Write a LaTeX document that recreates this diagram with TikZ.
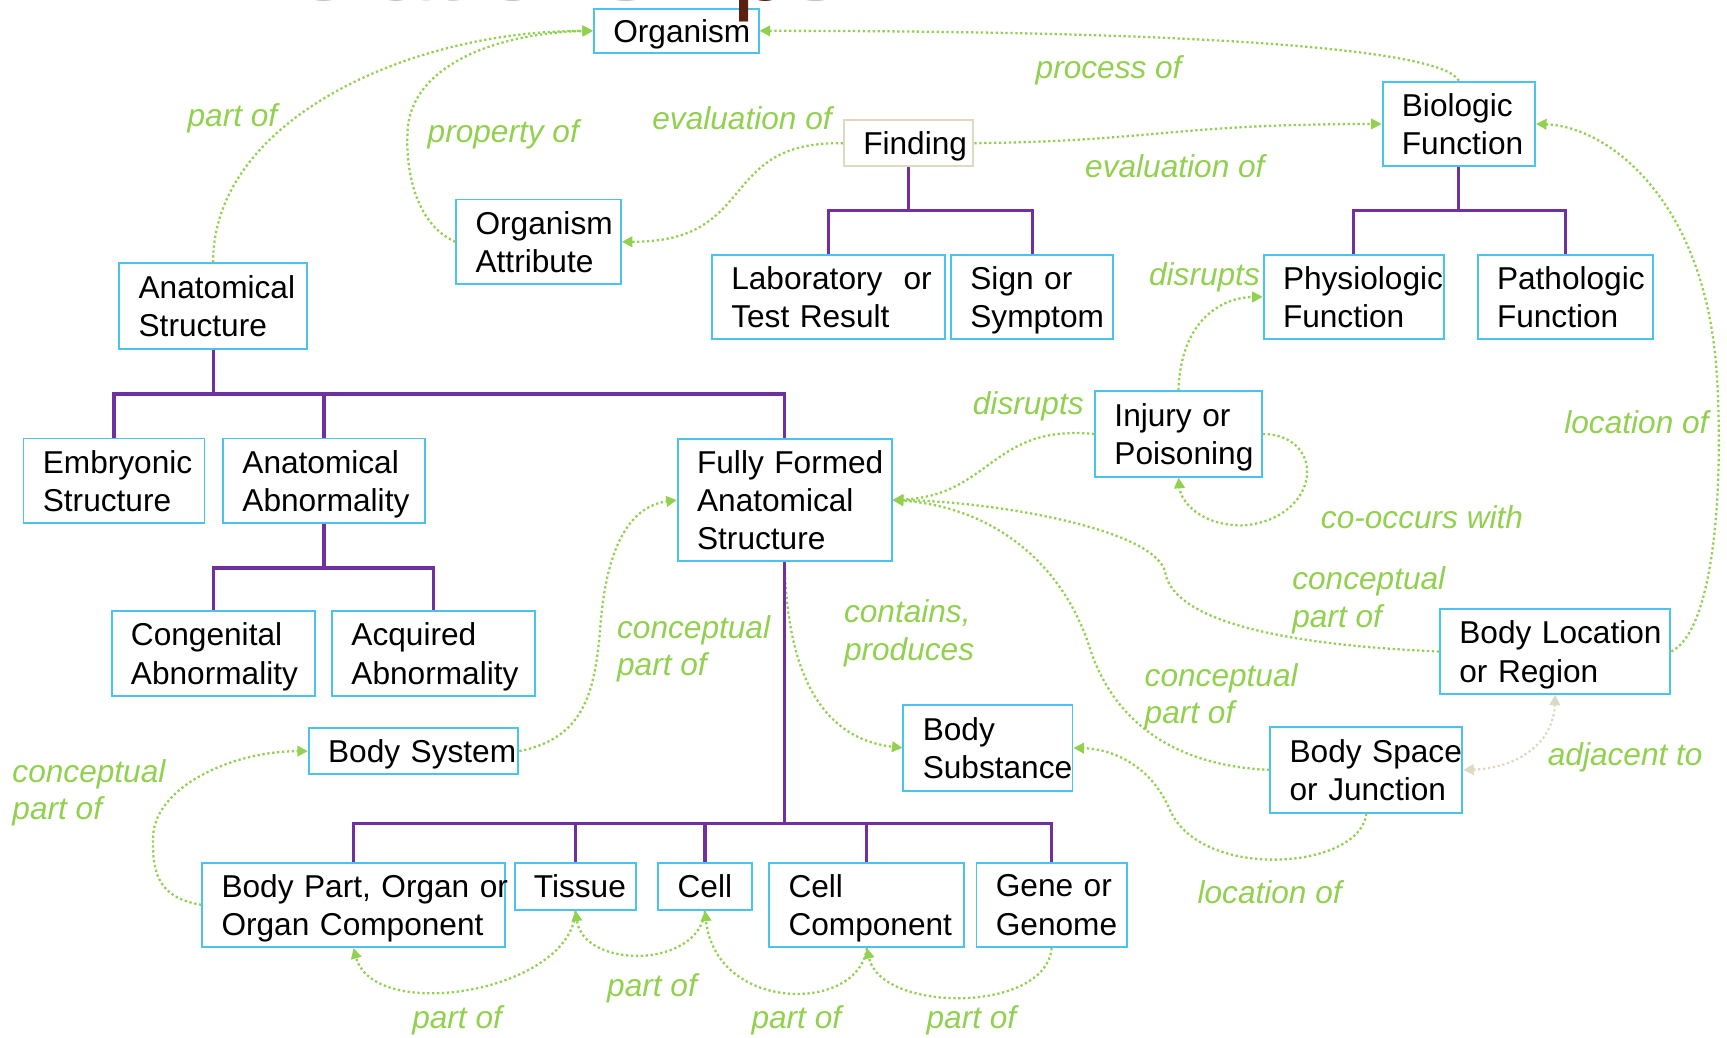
\documentclass[tikz,border=0pt]{standalone}
\usepackage{fontspec}
\setmainfont{Liberation Sans}
\usetikzlibrary{arrows.meta,positioning}

\definecolor{boxblue}{RGB}{75,195,240}
\definecolor{isapurple}{RGB}{112,48,160}
\definecolor{relgreen}{RGB}{146,208,80}
\definecolor{adjbeige}{RGB}{221,217,195}
\definecolor{titlegray}{RGB}{195,195,195}
\definecolor{titlebrown}{RGB}{90,32,18}

\newcommand{\conceptfont}{\fontsize{18}{21.8}\selectfont\hyphenpenalty 10000\relax}

\tikzset{
  concept/.style={draw=boxblue, line width=1.1pt, align=left, inner xsep=11pt, inner ysep=3pt,
    text depth=21.8pt, font=\conceptfont},
  oneline/.style={text depth=0pt},
  threeline/.style={text depth=43.6pt},
  isa/.style={isapurple, line width=1.8pt},
  rel/.style={relgreen, line width=1.3pt, dash pattern=on 1.3pt off 1.5pt,
    -{Triangle[length=6pt,width=6pt]}},
  adj/.style={adjbeige, line width=1.3pt, dash pattern=on 1.3pt off 1.5pt,
    {Triangle[length=6pt,width=6pt]}-{Triangle[length=6pt,width=6pt]}},
  rellabel/.style={relgreen, anchor=west, align=left, inner sep=0pt,
    font=\fontsize{18}{21.2}\selectfont\itshape},
}

\begin{document}
\begin{tikzpicture}[x=0.022028cm, y=-0.022028cm]

  \useasboundingbox (0,0) rectangle (1568,942);

  % concepts
  \node[concept, oneline, text width=71.7pt, minimum height=25pt] (organism) at (614,28) {Organism};
  \node[concept, oneline, draw=adjbeige, text width=51.7pt, minimum height=26.2pt] (finding) at (825,130) {Finding};
  \node[concept, text width=64.8pt, minimum height=48.1pt] (biofunc) at (1324.5,112.5) {Biologic\\Function};
  \node[concept, text width=71.7pt, minimum height=48.1pt] (orgattr) at (489,219.5) {Organism\\Attribute};
  \node[concept, text width=84.8pt, minimum height=48.7pt] (anatstruct) at (193.5,278) {Anatomical\\Structure};
  \node[concept, text width=110.4pt, minimum height=48.1pt] (labresult) at (752,269.5) {Laboratory~~or\\Test~Result};
  \node[concept, text width=70.4pt, minimum height=48.1pt] (signsym) [right=2.6pt of labresult] {Sign~or\\Symptom};
  \node[concept, text width=80.4pt, minimum height=48.1pt] (physfunc) at (1229,269.5) {Physiologic\\Function};
  \node[concept, text width=77.9pt, minimum height=48.1pt] (pathfunc) [right=18.3pt of physfunc] {Pathologic\\Function};
  \node[concept, text width=72.9pt, minimum height=48.7pt] (injury) at (1070,394) {Injury~or\\Poisoning};
  \node[concept, text width=81pt, minimum height=48.1pt] (embryonic) at (103.5,436.5) {Embryonic\\Structure};
  \node[concept, text width=92.9pt, minimum height=48.1pt] (anatabn) [right=9.5pt of embryonic] {Anatomical\\Abnormality};
  \node[concept, threeline, text width=99.8pt, minimum height=69.9pt] (fullyformed) at (712.5,454) {Fully~Formed\\Anatomical\\Structure};
  \node[concept, text width=93.5pt, minimum height=48.1pt] (congenital) at (193.5,593.5) {Congenital\\Abnormality};
  \node[concept, text width=93.5pt, minimum height=48.1pt] (acquired) [right=8.9pt of congenital] {Acquired\\Abnormality};
  \node[concept, text width=109.1pt, minimum height=48.1pt] (bodyloc) at (1412,591.5) {Body~Location\\or~Region};
  \node[concept, text width=87.3pt, minimum height=48.7pt] (bodyspace) at (1240.5,699) {Body~Space\\or~Junction};
  \node[concept, oneline, text width=97.3pt, minimum height=26.2pt] (bodysystem) at (375.5,682) {Body~System};
  \node[concept, text width=74.2pt, minimum height=48.7pt] (bodysubst) at (897,679) {Body\\Substance};
  \node[concept, text width=150.3pt, minimum height=48.1pt] (bodypart) at (321,821.5) {Body~Part,~Organ~or\\Organ~Component};
  \node[concept, oneline, text width=47.3pt, minimum height=26.8pt] (tissue) at (522.5,804.5) {Tissue};
  \node[concept, oneline, text width=31.1pt, minimum height=26.8pt] (cell) [right=11.4pt of tissue] {Cell};
  \node[concept, text width=89.1pt, minimum height=48.1pt] (cellcomp) at (787,821.5) {Cell\\Component};
  \node[concept, text width=63.5pt, minimum height=48.1pt] (gene) [right=5.8pt of cellcomp] {Gene~or\\Genome};

  % relations
  \draw[rel] (anatstruct.north) .. controls (193,110) and (370,28) .. (organism.west);
  \draw[rel] (orgattr.west) .. controls (380,205) and (368,160) .. (370,120)
    .. controls (372,60) and (450,30) .. (organism.west);
  \draw[rel] (finding.west) .. controls (650,128) and (690,220) .. (orgattr.east);
  \draw[rel] (biofunc.north) .. controls (1310,45) and (1100,28) .. (organism.east);
  \draw[rel] (finding.east) .. controls (1050,128) and (1060,113) .. (biofunc.west);
  \draw[rel] (bodyloc.east) .. controls (1560,570) and (1565,420) .. (1558,330)
    .. controls (1545,180) and (1460,115) .. (biofunc.east);
  \draw[rel] (injury.north) .. controls (1072,290) and (1110,270) .. (physfunc.west);
  \draw[rel] (injury.west) .. controls (900,385) and (900,450) .. (fullyformed.east);
  \draw[rel] (injury.east) .. controls (1205,395) and (1200,470) .. (1130,477)
    .. controls (1090,478) and (1072,455) .. (injury.south);
  \draw[rel] (bodyloc.west) .. controls (1150,585) and (1065,560) .. (1058,520)
    .. controls (1050,480) and (900,455) .. (fullyformed.east);
  \draw[rel] (bodyspace.west) .. controls (1060,695) and (1010,650) .. (990,590)
    .. controls (965,510) and (900,460) .. (fullyformed.east);
  \draw[rel] (fullyformed.south) .. controls (714,600) and (740,670) .. (bodysubst.west);
  \draw[rel] (bodyspace.south) .. controls (1235,790) and (1090,800) .. (1062,735)
    .. controls (1045,695) and (1010,680) .. (bodysubst.east);
  \draw[adj] (bodyspace.east) .. controls (1370,698) and (1410,680) .. (bodyloc.south);
  \draw[rel] (bodysystem.east) .. controls (530,670) and (540,630) .. (545,570)
    .. controls (550,500) and (570,460) .. (fullyformed.west);
  \draw[rel] (bodypart.west) .. controls (145,815) and (138,795) .. (139,760)
    .. controls (140,715) and (210,682) .. (bodysystem.west);
  \draw[rel] (tissue.south) .. controls (520,900) and (340,930) .. (bodypart.south);
  \draw[rel] (cell.south) .. controls (635,880) and (530,880) .. (tissue.south);
  \draw[rel] (cellcomp.south) .. controls (780,920) and (650,920) .. (cell.south);
  \draw[rel] (gene.south) .. controls (950,920) and (800,920) .. (cellcomp.south);

  % is-a tree
  \draw[isa] (anatstruct.south) -- ++(0,40) -| (embryonic.north);
  \draw[isa] (anatstruct.south) -- ++(0,40) -| (anatabn.north);
  \draw[isa] (anatstruct.south) -- ++(0,40) -| (fullyformed.north);
  \draw[isa] (anatabn.south) -- ++(0,40) -| (congenital.north);
  \draw[isa] (anatabn.south) -- ++(0,40) -| (acquired.north);
  \draw[isa] (finding.south) -- ++(0,39) -| (labresult.north);
  \draw[isa] (finding.south) -- ++(0,39) -| (signsym.north);
  \draw[isa] (biofunc.south) -- ++(0,39) -| (physfunc.north);
  \draw[isa] (biofunc.south) -- ++(0,39) -| (pathfunc.north);
  \draw[isa] (fullyformed.south) -- ++(0,237) -| (bodypart.north);
  \draw[isa] (fullyformed.south) -- ++(0,237) -| (tissue.north);
  \draw[isa] (fullyformed.south) -- ++(0,237) -| (cell.north);
  \draw[isa] (fullyformed.south) -- ++(0,237) -| (cellcomp.north);
  \draw[isa] (fullyformed.south) -- ++(0,237) -| (gene.north);

  % labels
  \node[rellabel] (lpart) at (170,107) {part of};
  \node[rellabel] (lprop) at (388,122) {property of};
  \node[rellabel] (leval) at (592,107) {evaluation of};
  \node[rellabel] (lproc) at (940,64) {process of};
  \node[rellabel] (leval2) at (985,151) {evaluation of};
  \node[rellabel] (ldisr) at (1043,252) {disrupts};
  \node[rellabel] (ldisr2) at (883,369) {disrupts};
  \node[rellabel] (lloc) at (1420,383) {location of};
  \node[rellabel] (lcooc) at (1199,470) {co-occurs with};
  \node[rellabel] (lcpart) at (1173,545) {conceptual\\part of};
  \node[rellabel] (lcpart2) at (1039,633) {conceptual\\part of};
  \node[rellabel] (lcont) at (766,575) {contains,\\produces};
  \node[rellabel] (lcpart3) at (560,589) {conceptual\\part of};
  \node[rellabel] (lcpart4) at (11,720) {conceptual\\part of};
  \node[rellabel] (ladj) at (1405,688) {adjacent to};
  \node[rellabel] (lloc2) at (1087,810) {location of};
  \node[rellabel] (lpart2) at (374,926) {part of};
  \node[rellabel] (lpart3) at (551,897) {part of};
  \node[rellabel] (lpart4) at (682,926) {part of};
  \node[rellabel] (lpart5) at (841,926) {part of};

  % heading, cut off at the top
  \node[anchor=base west, inner sep=0pt, text=titlegray, font=\fontsize{59}{59}\selectfont]
    (heading) at (236,0.5) {relationshi{\color{titlebrown}p}s};

\end{tikzpicture}
\end{document}
